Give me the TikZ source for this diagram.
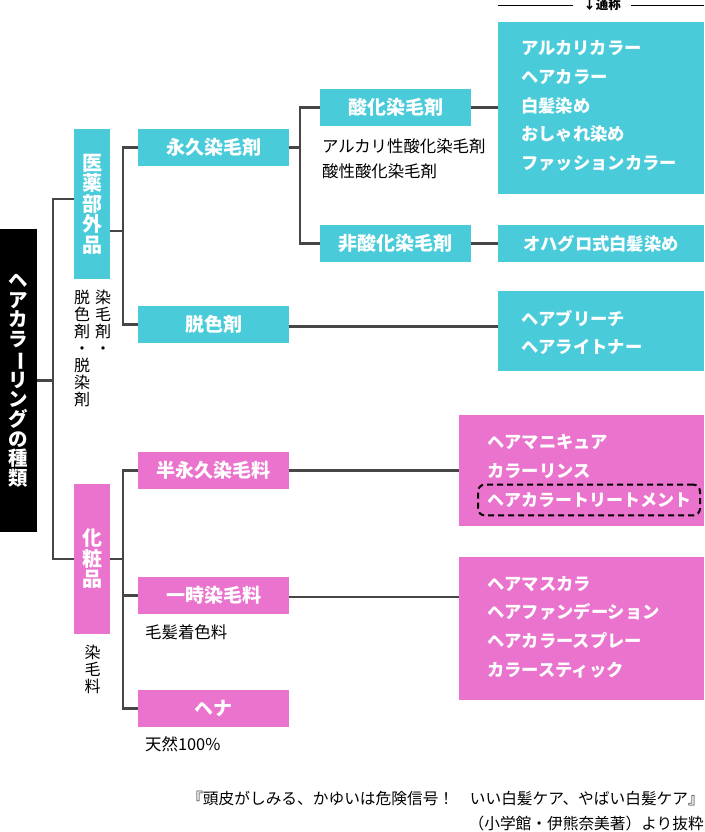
\documentclass[tikz,border=0pt]{standalone}
\usepackage{fontspec}
\setmainfont{Noto Sans CJK JP}
\usepackage{graphicx}
\usepackage{tikz}
\usetikzlibrary{positioning}
\definecolor{hcyan}{RGB}{74,203,218}
\definecolor{hpink}{RGB}{234,115,205}
\definecolor{linegray}{RGB}{70,70,70}
\tikzset{
    conn/.style={draw=linegray, line width=2.4pt},
    cyanbox/.style={fill=hcyan, text=white, inner sep=0pt, minimum width=151pt, minimum height=37pt,
      font=\bfseries\fontsize{19}{22}\selectfont},
    pinkbox/.style={cyanbox, fill=hpink},
    catbox/.style={cyanbox, minimum width=36pt, minimum height=150pt, align=center,
      font=\bfseries\fontsize{20}{20.5}\selectfont},
    listbox/.style={inner sep=0pt, minimum width=206pt},
    itemtext/.style={text=white, inner sep=0pt, anchor=west, align=left,
      font=\bfseries\fontsize{17.3}{28.6}\selectfont},
    note/.style={inner sep=0pt, anchor=west, align=left, font=\fontsize{16.4}{25}\selectfont},
    tatenote/.style={inner sep=0pt, anchor=north, align=center, font=\fontsize{16}{17}\selectfont}
}
\newcommand{\tatebar}{\rotatebox[origin=c]{-90}{ー}}
\begin{document}
\begin{tikzpicture}[x=1pt, y=-1pt]
    \useasboundingbox (0,0) rectangle (704,832);
    \node[fill=black, text=white, inner sep=0pt, minimum width=37pt, minimum height=303pt, align=center,
      font=\bfseries\fontsize{19.5}{19.6}\selectfont] (title) at (18.5,380.5)
      {ヘ\\ア\\カ\\ラ\\\tatebar\\リ\\ン\\グ\\の\\種\\類};
    \node[catbox] (iyaku) at (92,204) {医\\薬\\部\\外\\品};
    \node[catbox, fill=hpink] (keshou) at (92,559) {化\\粧\\品};
    \node[tatenote] (iyakunoteA) at (103,290) {染\\毛\\剤\\・};
    \node[tatenote] (iyakunoteB) at (82,290) {脱\\色\\剤\\・\\脱\\染\\剤};
    \node[tatenote] (keshounote) at (92.5,645) {染\\毛\\料};
    \node[cyanbox] (eikyu) at (213.5,147.5) {永久染毛剤};
    \node[cyanbox] (dasshoku) at (213.5,324.5) {脱色剤};
    \node[pinkbox] (hanei) at (213.5,470.5) {半永久染毛料};
    \node[pinkbox] (ichiji) at (213.5,595.5) {一時染毛料};
    \node[pinkbox] (hena) at (213.5,708.5) {ヘナ};
    \node[note] (ichijinote) at (145,632) {毛髪着色料};
    \node[note] (henanote) at (145,744) {天然100\%};
    \node[cyanbox] (sanka) at (395.5,107.5) {酸化染毛剤};
    \node[cyanbox] (hisanka) at (395.5,243.5) {非酸化染毛剤};
    \node[note] (sankanote) at (322,158.5) {アルカリ性酸化染毛剤\\酸性酸化染毛剤};
    \node[listbox, fill=hcyan, minimum height=172pt] (tsusho) at (601,108) {};
    \node[itemtext] (tsushoitems) at (521,106)
      {アルカリカラー\\ヘアカラー\\白髪染め\\おしゃれ染め\\ファッションカラー};
    \node[inner sep=10pt, font=\bfseries\fontsize{12.5}{14}\selectfont] (tsuhead) at (602,5) {↓通称};
    \draw[thin] (tsuhead.west) -- (tsuhead.west -| tsusho.west);
    \draw[thin] (tsuhead.east) -- (tsuhead.east -| tsusho.east);
    \node[listbox, fill=hcyan, minimum height=37pt, text=white, font=\bfseries\fontsize{17.3}{20}\selectfont]
      (ohaguro) at (601,243.5) {オハグロ式白髪染め};
    \node[listbox, fill=hcyan, minimum height=80pt] (bleach) at (601,331) {};
    \node[itemtext] (bleachitems) at (521,332.5) {ヘアブリーチ\\ヘアライトナー};
    \node[listbox, fill=hpink, minimum width=245pt, minimum height=111pt] (manicure) at (581.5,470.5) {};
    \node[itemtext] (maniitems) at (487,456.5) {ヘアマニキュア\\カラーリンス};
    \node[itemtext, draw=black, dashed, dash pattern=on 6pt off 4pt, line width=2pt, rounded corners=7pt,
      font=\bfseries\fontsize{17}{20}\selectfont, inner xsep=9pt, inner ysep=8pt] (treatment) at (477,500)
      {ヘアカラートリートメント};
    \node[listbox, fill=hpink, minimum width=245pt, minimum height=143pt] (mascara) at (581.5,628.5) {};
    \node[itemtext] (mascaraitems) at (487,627)
      {ヘアマスカラ\\ヘアファンデーション\\ヘアカラースプレー\\カラースティック};
    \draw[conn] (title.east) -- ++(16,0) coordinate (jroot) |- ([yshift=5pt]iyaku.west);
    \draw[conn] (jroot) |- (keshou.west);
    \draw[conn] ([yshift=-27pt]iyaku.east) -- ++(13,0) coordinate (jiyaku) |- (eikyu.west);
    \draw[conn] (jiyaku) |- (dasshoku.west);
    \draw[conn] (keshou.east) -- ++(13,0) coordinate (jkeshou) |- (hanei.west);
    \draw[conn] (jkeshou) |- (ichiji.west);
    \draw[conn] (jkeshou) |- (hena.west);
    \draw[conn] (eikyu.east) -- ++(11,0) coordinate (jeikyu) |- (sanka.west);
    \draw[conn] (jeikyu) |- (hisanka.west);
    \draw[conn] (sanka.east) -- (sanka.east -| tsusho.west);
    \draw[conn] (hisanka.east) -- (ohaguro.west);
    \draw[conn] ([yshift=-2pt]dasshoku.east) -- ([yshift=-2pt]dasshoku.east -| bleach.west);
    \draw[conn] (hanei.east) -- (manicure.west);
    \draw[conn] ([yshift=-1.5pt]ichiji.east) -- ([yshift=-1.5pt]ichiji.east -| mascara.west);
    \node[inner sep=0pt, anchor=east, font=\fontsize{15.7}{18}\selectfont] (sourceA) at (704,799)
      {『頭皮がしみる、かゆいは危険信号！　いい白髪ケア、やばい白髪ケア』};
    \node[inner sep=0pt, anchor=east, font=\fontsize{15.7}{18}\selectfont] (sourceB) at (704,824)
      {（小学館・伊熊奈美著）より抜粋};
\end{tikzpicture}
\end{document}
